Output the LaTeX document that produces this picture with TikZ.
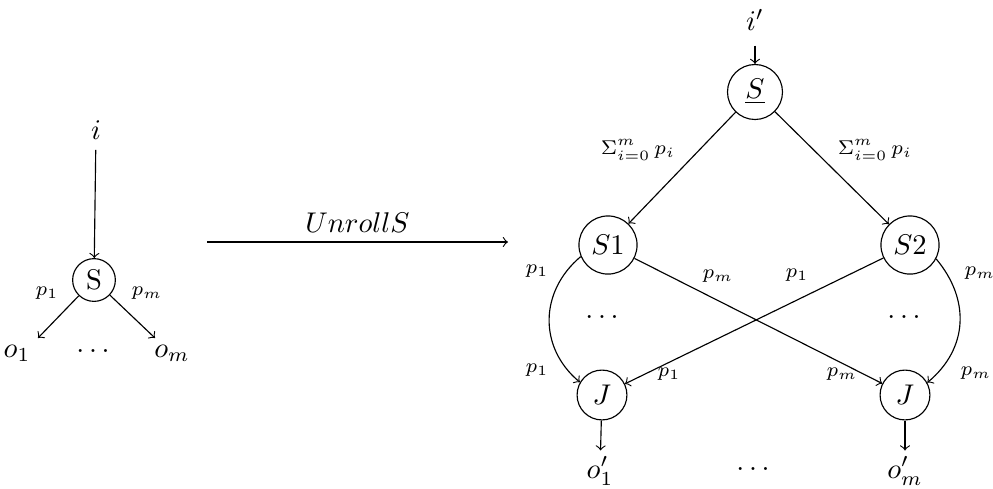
\documentclass[tikz,border=0pt]{standalone}
\usetikzlibrary{arrows}
\begin{document}
\begin{tikzpicture}[x=0.351pt,y=-0.351pt,
  st/.style={draw,circle,inner sep=0pt},
  lab/.style={font=\scriptsize},
  txt/.style={inner sep=3.5pt},
  arr/.style={->}]
\useasboundingbox (0,0) rectangle (993,488);
% left
\node[txt] (i) at (96,130) {$i$};
\node[st,minimum size=15pt] (S) at (94,280) {S};
\node[txt] (o1) at (17,353) {$o_1$};
\node[txt] (om) at (172,353) {$o_m$};
\node[txt] (ld) at (93,351) {$\dots$};
\coordinate (t1) at (38,338);
\coordinate (tm) at (155,338);
\draw[arr] (i) -- (S);
\draw[arr] (S) -- (t1);
\draw[arr] (S) -- (tm);
\node[lab] (lp1) at (47,293) {$p_1$};
\node[lab] (lpm) at (147,293) {$p_m$};
% unroll arrow
\coordinate (ua) at (207,242);
\coordinate (ub) at (508,242);
\draw[arr] (ua) -- node[above,inner sep=3pt] (ul) {$UnrollS$} (ub);
% right
\node[txt,inner sep=5pt] (ip) at (755,20) {$i'$};
\node[st,minimum size=19.3pt] (Su) at (755,92) {$\underline{S}$};
\node[st,minimum size=20.4pt] (S1) at (608,245) {$S1$};
\node[st,minimum size=20.4pt] (S2) at (910,245) {$S2$};
\node[st,minimum size=17.5pt] (J1) at (602,395) {$J$};
\node[st,minimum size=17.5pt] (J2) at (905,395) {$J$};
\node[txt,inner sep=2pt] (o1p) at (600,471) {$o'_1$};
\node[txt,inner sep=2pt] (omp) at (905,471) {$o'_m$};
\node[txt] (rd) at (753,469) {$\dots$};
\node[txt] (d1) at (602,317) {$\dots$};
\node[txt] (d2) at (904,317) {$\dots$};
\draw[arr] (ip) -- (Su);
\draw[arr] (Su) -- (S1);
\draw[arr] (Su) -- (S2);
\node[lab] (sl) at (638,150) {$\Sigma_{i=0}^{m}\,p_i$};
\node[lab] (sr) at (875,150) {$\Sigma_{i=0}^{m}\,p_i$};
\draw[arr] (S1.203) to[out=220,in=140,looseness=1.1] (J1.150);
\draw[arr] (S2.332) to[out=-50,in=40,looseness=1.1] (J2.29);
\draw[arr] (S1) -- (J2);
\draw[arr] (S2) -- (J1);
\draw[arr] (J1) -- (o1p);
\draw[arr] (J2) -- (omp);
\node[lab] (a1) at (537,271) {$p_1$};
\node[lab] (a2) at (718,276) {$p_m$};
\node[lab] (a3) at (797,275) {$p_1$};
\node[lab] (a4) at (980,273) {$p_m$};
\node[lab] (b1) at (537,370) {$p_1$};
\node[lab] (b2) at (669,374) {$p_1$};
\node[lab] (b3) at (842,374) {$p_m$};
\node[lab] (b4) at (976,373) {$p_m$};
\end{tikzpicture}
\end{document}
